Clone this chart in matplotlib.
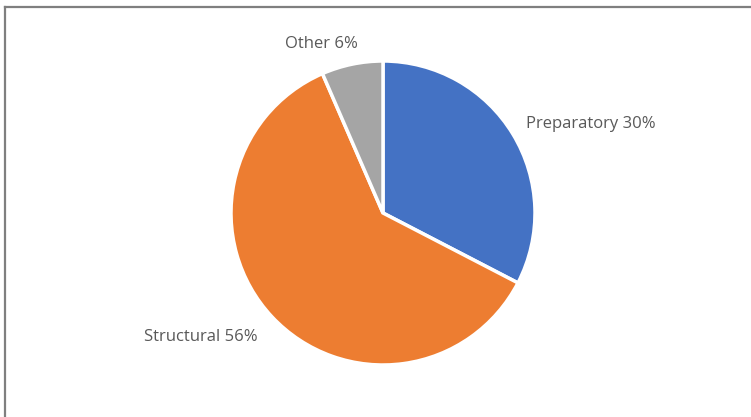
import matplotlib
matplotlib.use("Agg")
import matplotlib.pyplot as plt
from matplotlib.lines import Line2D

categories = ["Preparatory", "Structural", "Other"]
values = [30, 56, 6]
colors = ["#4472C4", "#ED7D31", "#A5A5A5"]

W, H = 751, 417
fig = plt.figure(figsize=(W / 100, H / 100), dpi=100)
ax = fig.add_axes([0, 0, 1, 1])
ax.set_xlim(0, W)
ax.set_ylim(0, H)
ax.set_aspect("equal")
ax.axis("off")

cx, cy, r = 383, H - 213, 152
ax.pie(values, colors=colors, startangle=90, counterclock=False,
       center=(cx, cy), radius=r, frame=True,
       wedgeprops=dict(edgecolor="white", linewidth=2.5))
ax.set_xlim(0, W)
ax.set_ylim(0, H)
ax.axis("off")

label_pos = {"Preparatory": (526, H - 124, "left"),
             "Structural": (258, H - 337, "right"),
             "Other": (358, H - 44, "right")}
for cat, v in zip(categories, values):
    x, y, ha = label_pos[cat]
    ax.text(x, y, f"{cat} {v}%", ha=ha, va="center", fontsize=12,
            color="#595959", family=["Open Sans", "DejaVu Sans"])

# partial border (top and left)
fig.add_artist(Line2D([5 / W, 1], [1 - 6.5 / H, 1 - 6.5 / H], color="#7F7F7F", lw=1.6,
                      transform=fig.transFigure))
fig.add_artist(Line2D([5 / W, 5 / W], [0, 1 - 6.5 / H], color="#7F7F7F", lw=1.6,
                      transform=fig.transFigure))

fig.savefig("out.png", dpi=100)
